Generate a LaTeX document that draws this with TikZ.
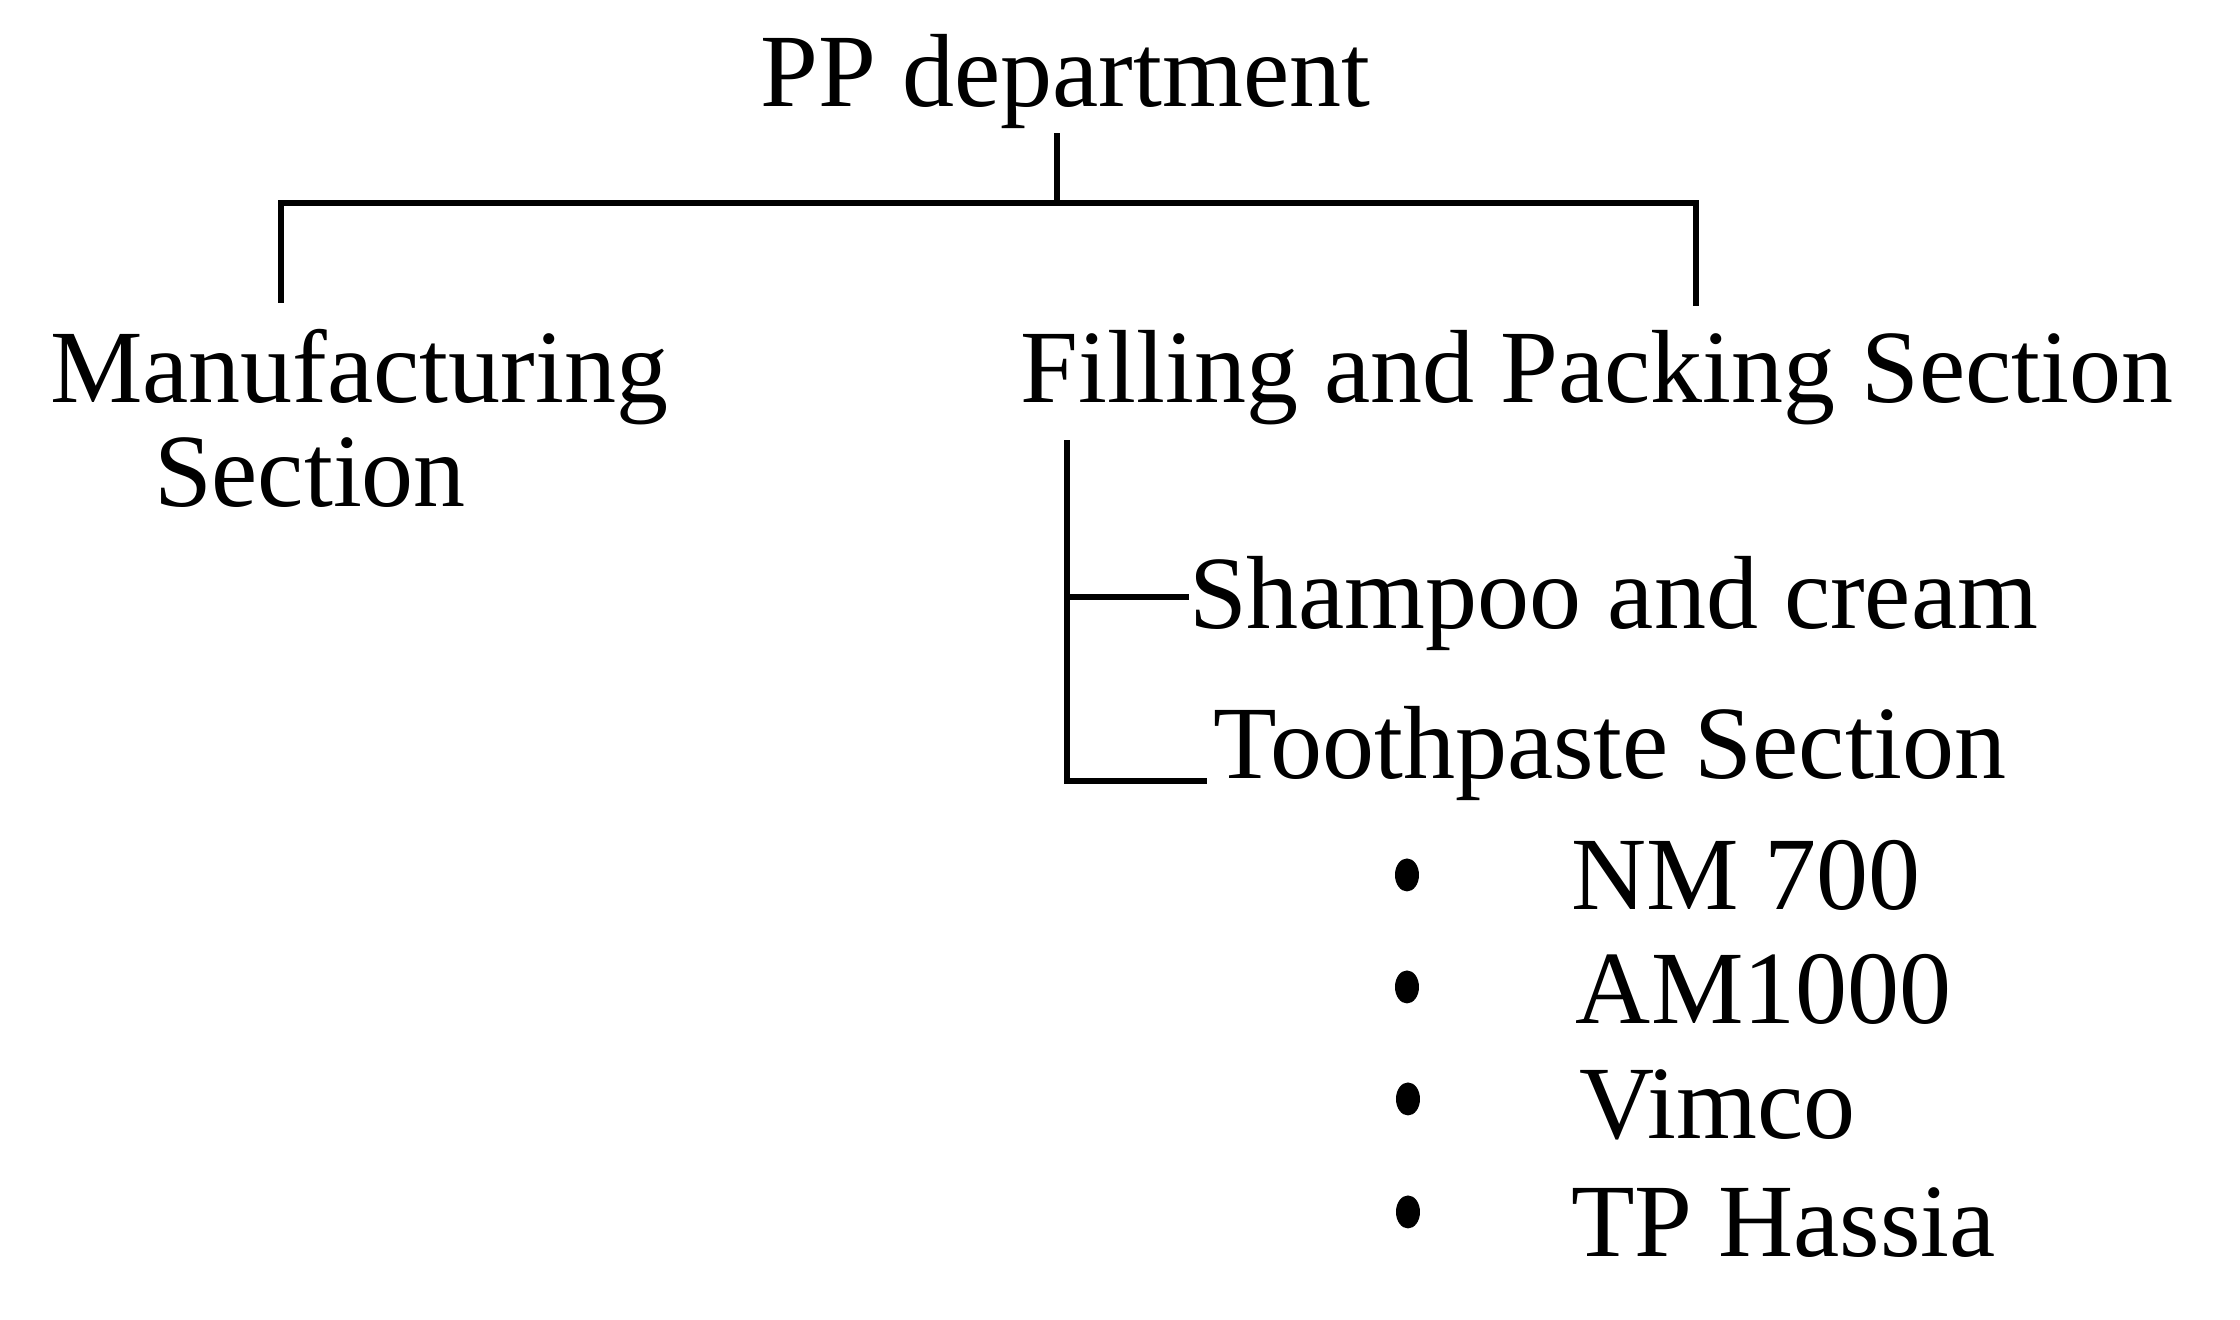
\documentclass[tikz,border=0pt]{standalone}
\usepackage{fontspec}
\setmainfont{Liberation Serif}
\usetikzlibrary{shapes.geometric}
\begin{document}
\begin{tikzpicture}[x=0.1pt,y=-0.1pt,
  lbl/.style={inner sep=0pt, outer sep=0pt, anchor=base west, font=\fontsize{10.4}{10.4}\selectfont},
  conn/.style={line width=0.65pt, line cap=rect},
  bul/.style={ellipse, fill=black, draw=none, minimum width=2.4pt, minimum height=3.3pt, inner sep=0pt}]
\useasboundingbox[fill=white] (0,0) rectangle (2240,1320);
% texts
\node[lbl] (pp) at (761,107) {PP department};
\node[lbl] (man) at (50,403) {Manufacturing};
\node[lbl] (man2) at (154,507) {Section};
\node[lbl] (fill) at (1021,403) {Filling and Packing Section};
\node[lbl] (sham) at (1189,629) {Shampoo and cream};
\node[lbl] (tooth) at (1214,779) {Toothpaste Section};
\node[lbl] (nm) at (1571,910) {NM 700};
\node[lbl] (am) at (1576,1024) {AM1000};
\node[lbl] (vim) at (1579,1139) {Vimco};
\node[lbl] (tp) at (1571,1257) {TP Hassia};
\node[bul] (b1) at (1407,875) {};
\node[bul] (b2) at (1407,987) {};
\node[bul] (b3) at (1408,1099) {};
\node[bul] (b4) at (1408,1212) {};
% connector points
\coordinate (stemtop) at (1057,136);
\coordinate (bar) at (1057,203);
\coordinate (lend) at (281,300);
\coordinate (rend) at (1696,303);
\coordinate (fv) at (1067,443);
\coordinate (fvb) at (1067,781);
\coordinate (shend) at (1186,597);
\coordinate (toend) at (1204,781);
% connectors
\draw[conn] (stemtop) -- (bar);
\draw[conn] (lend) -- (lend |- bar) -- (rend |- bar) -- (rend);
\draw[conn] (fv) -- (fvb) -- (toend);
\draw[conn] (fv |- shend) -- (shend);
\end{tikzpicture}
\end{document}
